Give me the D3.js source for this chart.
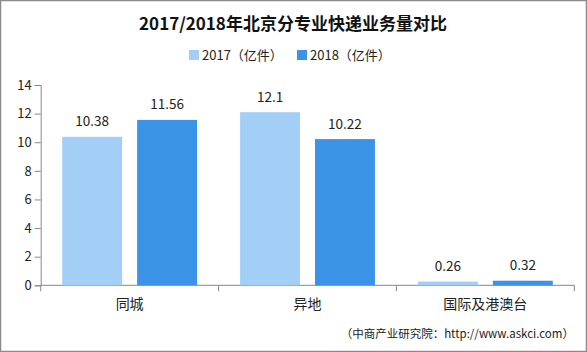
<!DOCTYPE html>
<html><head><meta charset="utf-8">
<script src="https://cdn.jsdelivr.net/npm/d3@7"></script>
<style>
html,body{margin:0;padding:0;background:#fff;}
svg{display:block;}
</style></head>
<body>
<script>
const categories = ["同城", "异地", "国际及港澳台"];
const seriesNames = ["2017（亿件）", "2018（亿件）"];
const values2017 = [10.38, 12.1, 0.26];
const values2018 = [11.56, 10.22, 0.32];
const yTicks = [0, 2, 4, 6, 8, 10, 12, 14];
const labels2017 = ["10.38", "12.1", "0.26"];
const labels2018 = ["11.56", "10.22", "0.32"];

(function () {
const W = 587, H = 352;
const colors = ["#a3cff6", "#3b93e8"];
const font = "'Noto Sans CJK SC', 'Noto Sans', sans-serif";

const svg = d3.select("body").append("svg").attr("width", W).attr("height", H);
svg.append("rect").attr("x", 0.5).attr("y", 0.5).attr("width", W - 1).attr("height", H - 1)
  .attr("fill", "#fff").attr("stroke", "#8a8a8a").attr("stroke-width", 1.5);

const mLeft = 40.7, mRight = 574.3, mTop = 85, mBottom = 285.3;
const x0 = d3.scaleBand().domain(categories).range([mLeft, mRight]).paddingInner(0).paddingOuter(0);
const x1 = d3.scaleBand().domain(seriesNames).range([21.5, x0.bandwidth() - 21.5]).paddingInner(0.2);
const y = d3.scaleLinear().domain([0, 14]).range([mBottom, mTop]);

// title
svg.append("text").attr("x", 293).attr("y", 30).attr("text-anchor", "middle")
  .attr("font-family", font).attr("font-weight", "bold").attr("font-size", 17).attr("fill", "#111")
  .text("2017/2018年北京分专业快递业务量对比");

// legend
const legX = [189, 297];
seriesNames.forEach((s, i) => {
  svg.append("rect").attr("x", legX[i]).attr("y", 50).attr("width", 10).attr("height", 10).attr("fill", colors[i]);
  svg.append("text").attr("x", legX[i] + 13).attr("y", 60).attr("font-family", font).attr("font-size", 13)
    .attr("fill", "#222").text(s);
});

// y axis
const yAxis = svg.append("g").attr("transform", `translate(${mLeft},0)`)
  .call(d3.axisLeft(y).tickValues(yTicks).tickSize(6).tickPadding(3).tickFormat(d3.format("d")));
yAxis.selectAll("path,line").attr("stroke", "#888");
yAxis.selectAll("text").attr("font-family", font).attr("font-size", 13).attr("fill", "#222");

// x axis
const xg = svg.append("g").attr("transform", `translate(0,${mBottom})`);
xg.append("line").attr("x1", mLeft).attr("x2", mRight).attr("stroke", "#888");
[mLeft, ...categories.map(c => x0(c) + x0.bandwidth())].forEach(v => {
  xg.append("line").attr("x1", v).attr("x2", v).attr("y1", 0).attr("y2", 6).attr("stroke", "#888");
});
categories.forEach(c => {
  xg.append("text").attr("x", x0(c) + x0.bandwidth() / 2).attr("y", 24).attr("text-anchor", "middle")
    .attr("font-family", font).attr("font-size", 14).attr("fill", "#222").text(c);
});

// bars
const data = [values2017, values2018];
const labs = [labels2017, labels2018];
seriesNames.forEach((s, si) => {
  categories.forEach((c, ci) => {
    const v = data[si][ci];
    const bx = x0(c) + x1(s);
    svg.append("rect").attr("x", bx).attr("y", y(v)).attr("width", x1.bandwidth())
      .attr("height", y(0) - y(v)).attr("fill", colors[si]);
    svg.append("text").attr("x", bx + x1.bandwidth() / 2).attr("y", y(v) - 10.5).attr("text-anchor", "middle")
      .attr("font-family", font).attr("font-size", 13.5).attr("fill", "#222").text(labs[si][ci]);
  });
});

// source
svg.append("text").attr("x", 574).attr("y", 338).attr("text-anchor", "end")
  .attr("font-family", font).attr("font-size", 11.5).attr("fill", "#222")
  .text("（中商产业研究院：http://www.askci.com）");
})();
</script>
</body></html>
